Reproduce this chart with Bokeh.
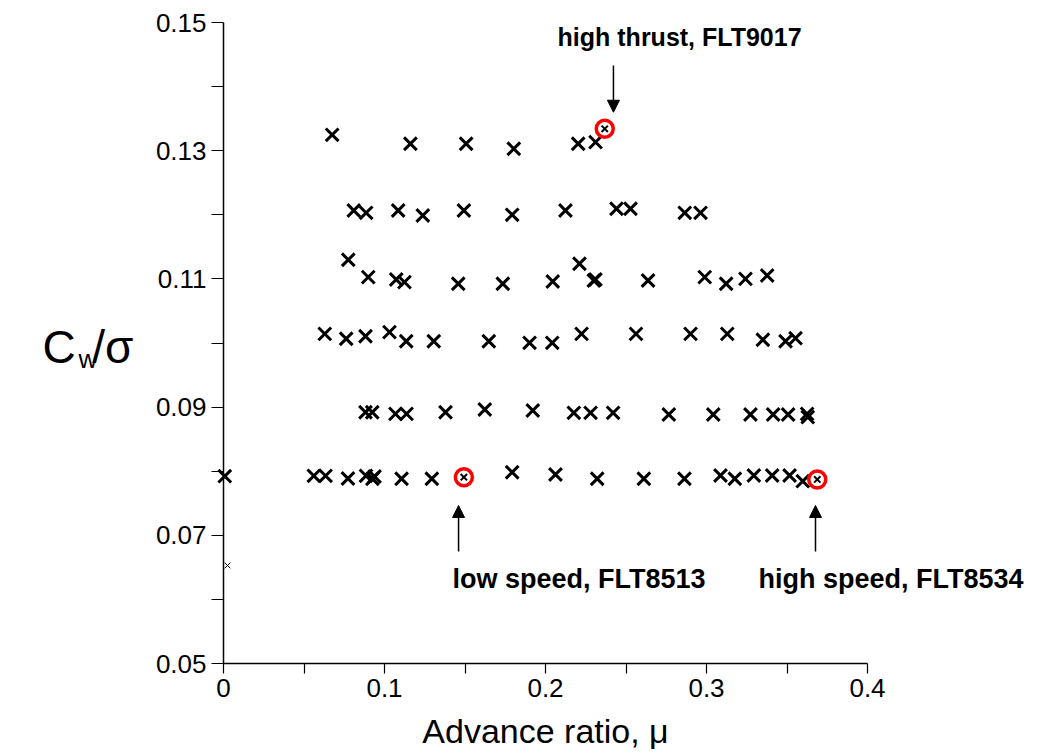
from bokeh.plotting import figure
from bokeh.models import Range1d, FixedTicker, NumeralTickFormatter, Label, Arrow, NormalHead
from bokeh.embed import file_html
from bokeh.resources import INLINE

# ---- data: advance ratio (mu) and blade loading (Cw/sigma) ----
mu = [
    0.0675, 0.1161, 0.1507, 0.1803, 0.2203, 0.2311,
    0.0809, 0.0886, 0.1085, 0.1238, 0.1493, 0.1793, 0.2124, 0.2441, 0.2528, 0.2865, 0.2963,
    0.0775, 0.0899, 0.1073, 0.1124, 0.1458, 0.1735, 0.2045, 0.2211, 0.2300, 0.2310, 0.2637,
    0.2989, 0.3122, 0.3242, 0.3377,
    0.0629, 0.0762, 0.0882, 0.1031, 0.1135, 0.1306, 0.1648, 0.1901, 0.2042, 0.2224, 0.2562,
    0.2901, 0.3129, 0.3350, 0.3491, 0.3553,
    0.0882, 0.0924, 0.1068, 0.1137, 0.1379, 0.1623, 0.1921, 0.2176, 0.2280, 0.2420, 0.2766,
    0.3042, 0.3273, 0.3414, 0.3507, 0.3625, 0.3629,
    0.0008, 0.0561, 0.0634, 0.0773, 0.0885, 0.0925, 0.0938, 0.1106, 0.1294, 0.1793, 0.2062,
    0.2321, 0.2611, 0.2863, 0.3087, 0.3176, 0.3294, 0.3408, 0.3516, 0.3598,
]
cw = [
    0.13248, 0.13108, 0.13108, 0.13030, 0.13108, 0.13133,
    0.12067, 0.12031, 0.12067, 0.11989, 0.12067, 0.12000, 0.12067, 0.12094, 0.12094, 0.12031, 0.12031,
    0.11298, 0.11027, 0.10991, 0.10949, 0.10924, 0.10924, 0.10960, 0.11236, 0.10975, 0.10990, 0.10975,
    0.11027, 0.10924, 0.11001, 0.11053,
    0.10143, 0.10066, 0.10106, 0.10169, 0.10028, 0.10028, 0.10028, 0.10003, 0.10003, 0.10143, 0.10143,
    0.10143, 0.10143, 0.10050, 0.10028, 0.10075,
    0.08920, 0.08920, 0.08895, 0.08895, 0.08920, 0.08963, 0.08947, 0.08911, 0.08911, 0.08911, 0.08885,
    0.08885, 0.08885, 0.08885, 0.08885, 0.08895, 0.08843,
    0.07922, 0.07928, 0.07928, 0.07886, 0.07928, 0.07882, 0.07917, 0.07882, 0.07882, 0.07984, 0.07949,
    0.07882, 0.07882, 0.07882, 0.07933, 0.07882, 0.07933, 0.07933, 0.07933, 0.07844,
]

# small stray marker
stray_mu = [0.0025]
stray_cw = [0.06529]

# highlighted flights
hl_mu = [0.2368, 0.1493, 0.3688]
hl_cw = [0.13342, 0.07906, 0.07871]
hl_names = ["high thrust, FLT9017", "low speed, FLT8513", "high speed, FLT8534"]
hl_font = ["25px", "27px", "27px"]

# annotation placement (label left x, label y, arrow x, arrow start y, arrow tip y)
lab_x = [0.2075, 0.1422, 0.3323]
lab_y = [0.1478, 0.06326, 0.06326]
arr_x = [0.2422, 0.1460, 0.3677]
arr_y0 = [0.1433, 0.06747, 0.06747]
arr_y1 = [0.1360, 0.07465, 0.07465]

x_ticks = [0.0, 0.1, 0.2, 0.3, 0.4]
x_minor = [0.05, 0.15, 0.25, 0.35]
y_ticks = [0.05, 0.07, 0.09, 0.11, 0.13, 0.15]
y_minor = [0.06, 0.08, 0.10, 0.12, 0.14]

FONT = "Liberation Sans"

# frame fills the whole canvas; axes are pinned to x=0 / y=0.05 and bounded
XPX = 1610.0   # pixels per unit of mu
YPX = 6410.0   # pixels per unit of Cw/sigma
x0 = 0.0 - 223 / XPX
x1 = 0.4 + (1039 - 867) / XPX
y1 = 0.15 + 22 / YPX
y0 = 0.05 - (755 - 663) / YPX

p = figure(width=1039, height=755, x_range=Range1d(x0, x1), y_range=Range1d(y0, y1),
           output_backend="svg", toolbar_location=None,
           min_border_left=0, min_border_right=0, min_border_top=0, min_border_bottom=0)
p.xgrid.visible = False
p.ygrid.visible = False
p.outline_line_color = None
p.background_fill_color = "white"
p.border_fill_color = "white"

p.xaxis.fixed_location = 0.05
p.yaxis.fixed_location = 0.0
p.xaxis.bounds = (0.0, 0.4)
p.yaxis.bounds = (0.05, 0.15)

for ax, ticks, minor, fmt, out in ((p.xaxis, x_ticks, x_minor, "0.[0]", 10),
                                   (p.yaxis, y_ticks, y_minor, "0.00", 12)):
    ax.ticker = FixedTicker(ticks=ticks, minor_ticks=minor)
    ax.formatter = NumeralTickFormatter(format=fmt)
    ax.axis_line_color = "black"
    ax.axis_line_width = 1.5
    ax.major_tick_line_color = "black"
    ax.minor_tick_line_color = "black"
    ax.major_tick_line_width = 1.2
    ax.minor_tick_line_width = 1.2
    ax.major_tick_in = 0
    ax.minor_tick_in = 0
    ax.major_tick_out = out
    ax.minor_tick_out = out
    ax.major_label_text_font = FONT
    ax.major_label_text_font_size = "26px"
    ax.major_label_text_color = "black"
    ax.major_label_standoff = 5

p.xaxis.axis_label = "Advance ratio, μ"
p.xaxis.axis_label_text_font = FONT
p.xaxis.axis_label_text_font_size = "34px"
p.xaxis.axis_label_text_font_style = "normal"
p.xaxis.axis_label_text_color = "black"
p.xaxis.axis_label_standoff = 12

# data markers
p.scatter(mu, cw, marker="x", size=18, line_color="black", line_width=3)
p.scatter(stray_mu, stray_cw, marker="x", size=8, line_color="black", line_width=1)
p.scatter(hl_mu, hl_cw, marker="x", size=9, line_color="black", line_width=2)
p.scatter(hl_mu, hl_cw, marker="circle", size=17, fill_color=None, line_color="#ff0000", line_width=3.5)

# y axis label C_w / sigma
p.add_layout(Label(x=-0.1124, y=0.0993, text="C", text_font=FONT, text_font_size="46px",
                   text_baseline="middle", text_align="left", text_color="black"))
p.add_layout(Label(x=-0.0900, y=0.0975, text="w", text_font=FONT, text_font_size="26px",
                   text_baseline="middle", text_align="left", text_color="black"))
p.add_layout(Label(x=-0.0815, y=0.0993, text="/σ", text_font=FONT, text_font_size="46px",
                   text_baseline="middle", text_align="left", text_color="black"))

# annotations
for i in range(3):
    p.add_layout(Label(x=lab_x[i], y=lab_y[i], text=hl_names[i], text_font=FONT,
                       text_font_size=hl_font[i], text_font_style="bold",
                       text_baseline="middle", text_align="left", text_color="black"))
    p.add_layout(Arrow(end=NormalHead(size=12, fill_color="black", line_color="black"),
                       x_start=arr_x[i], y_start=arr_y0[i], x_end=arr_x[i], y_end=arr_y1[i],
                       line_color="black", line_width=1.5))

open("out.html", "w").write(file_html(p, INLINE))
